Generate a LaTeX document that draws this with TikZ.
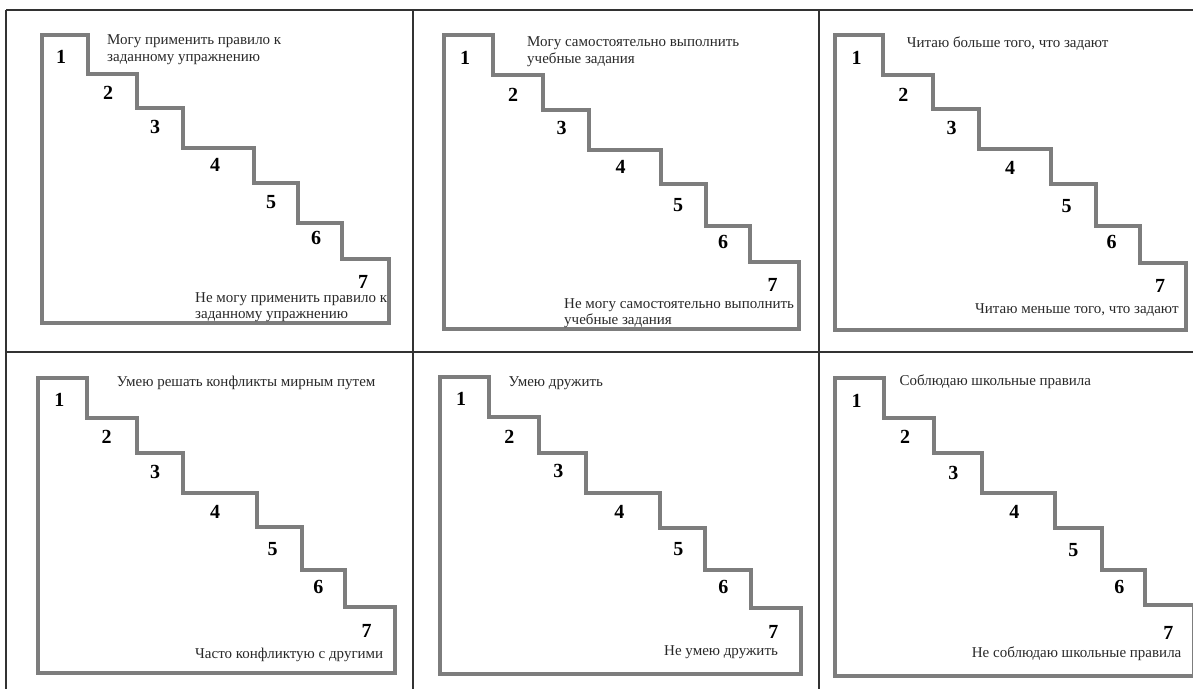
\documentclass[tikz,border=0pt]{standalone}
\usepackage{fontspec}
\setmainfont{Liberation Serif}
\definecolor{stairgray}{RGB}{125,125,125}
\definecolor{tabline}{RGB}{50,50,50}
\definecolor{txt}{RGB}{40,40,40}
\tikzset{
  stair/.style={draw=stairgray, line width=4pt, line join=miter},
  tabrule/.style={draw=tabline, line width=1.6pt},
  num/.style={font=\fontsize{20}{20}\selectfont\bfseries, inner sep=0pt, text=black},
  lbl/.style={font=\fontsize{15}{16.5}\selectfont, inner sep=0pt, align=left, anchor=west, text=txt}
}
\begin{document}
\begin{tikzpicture}[x=1pt,y=-1pt]
\useasboundingbox (0,0) rectangle (1193,688);
\clip (0,0) rectangle (1193,688);
% table
\coordinate (tl) at (6,10);
\coordinate (tr) at (1200,10);
\coordinate (bl) at (6,690);
\coordinate (c1t) at (413,10);
\coordinate (c1b) at (413,690);
\coordinate (c2t) at (819,10);
\coordinate (c2b) at (819,690);
\coordinate (ml) at (6,352);
\coordinate (mr) at (1200,352);
\draw[tabrule] (tl) -- (tr);
\draw[tabrule] (tl) -- (bl);
\draw[tabrule] (c1t) -- (c1b);
\draw[tabrule] (c2t) -- (c2b);
\draw[tabrule] (ml) -- (mr);
% staircases
\draw[stair] (41.7,35) -- (88.3,35) -- (88.3,74) -- (137.3,74) -- (137.3,108.3) -- (183.3,108.3) -- (183.3,147.7) -- (254,147.7) -- (254,182.7) -- (298.3,182.7) -- (298.3,222.7) -- (341.7,222.7) -- (341.7,259.3) -- (389.3,259.3) -- (389.3,323.3) -- (41.7,323.3) -- cycle;
\draw[stair] (444.3,35) -- (493.3,35) -- (493.3,75) -- (542.7,75) -- (542.7,110) -- (589,110) -- (589,150) -- (660.7,150) -- (660.7,184) -- (706,184) -- (706,226) -- (750,226) -- (750,262.3) -- (799.3,262.3) -- (799.3,329.3) -- (444.3,329.3) -- cycle;
\draw[stair] (835,35) -- (883.3,35) -- (883.3,75) -- (932.7,75) -- (932.7,109.3) -- (979,109.3) -- (979,149.3) -- (1050.7,149.3) -- (1050.7,184) -- (1095.7,184) -- (1095.7,226) -- (1140,226) -- (1140,262.7) -- (1186,262.7) -- (1186,330) -- (835,330) -- cycle;
\draw[stair] (38.3,378.3) -- (87.3,378.3) -- (87.3,418.3) -- (136.7,418.3) -- (136.7,453.3) -- (182.7,453.3) -- (182.7,493.3) -- (256.7,493.3) -- (256.7,527.3) -- (301.7,527.3) -- (301.7,570) -- (345,570) -- (345,606.7) -- (395,606.7) -- (395,673.3) -- (38.3,673.3) -- cycle;
\draw[stair] (440,376.7) -- (489,376.7) -- (489,417.3) -- (539.3,417.3) -- (539.3,452.7) -- (585.7,452.7) -- (585.7,493.3) -- (660,493.3) -- (660,528.3) -- (705,528.3) -- (705,570) -- (750.7,570) -- (750.7,607.7) -- (800.7,607.7) -- (800.7,674.3) -- (440,674.3) -- cycle;
\draw[stair] (835,378.3) -- (884,378.3) -- (884,418.3) -- (934.3,418.3) -- (934.3,453.3) -- (981.7,453.3) -- (981.7,493.3) -- (1055,493.3) -- (1055,528.3) -- (1101.7,528.3) -- (1101.7,570) -- (1145,570) -- (1145,605) -- (1194,605) -- (1194,676) -- (835,676) -- cycle;
% numbers panel 1
\node[num] (a1) at (61,57) {1};
\node[num] (a2) at (108,93) {2};
\node[num] (a3) at (155,127) {3};
\node[num] (a4) at (215,165) {4};
\node[num] (a5) at (271,202) {5};
\node[num] (a6) at (316,238) {6};
\node[num] (a7) at (363,281.5) {7};
% panel 2
\node[num] (b1) at (465,58) {1};
\node[num] (b2) at (513,95) {2};
\node[num] (b3) at (561.7,128) {3};
\node[num] (b4) at (620.7,166.7) {4};
\node[num] (b5) at (678,205) {5};
\node[num] (b6) at (723,241.7) {6};
\node[num] (b7) at (772.7,285) {7};
% panel 3
\node[num] (c1) at (856.7,58.3) {1};
\node[num] (c2) at (903.3,95) {2};
\node[num] (c3) at (951.7,128.3) {3};
\node[num] (c4) at (1010,168.3) {4};
\node[num] (c5) at (1066.7,206) {5};
\node[num] (c6) at (1111.7,241.7) {6};
\node[num] (c7) at (1160,286) {7};
% panel 4
\node[num] (d1) at (59.3,400) {1};
\node[num] (d2) at (106.7,437.3) {2};
\node[num] (d3) at (155,471.7) {3};
\node[num] (d4) at (215,511.7) {4};
\node[num] (d5) at (272.7,549.3) {5};
\node[num] (d6) at (318.3,586.7) {6};
\node[num] (d7) at (366.7,630.7) {7};
% panel 5
\node[num] (e1) at (461,399.3) {1};
\node[num] (e2) at (509.3,436.7) {2};
\node[num] (e3) at (558.3,470.7) {3};
\node[num] (e4) at (619.3,511.7) {4};
\node[num] (e5) at (678.3,549.3) {5};
\node[num] (e6) at (723.3,587.3) {6};
\node[num] (e7) at (773.3,631.7) {7};
% panel 6
\node[num] (f1) at (856.7,400.7) {1};
\node[num] (f2) at (905,437.3) {2};
\node[num] (f3) at (953.3,472.7) {3};
\node[num] (f4) at (1014.3,511.7) {4};
\node[num] (f5) at (1073.3,550) {5};
\node[num] (f6) at (1119.3,587.3) {6};
\node[num] (f7) at (1168.3,632.7) {7};
% labels
\node[lbl] (at) at (107,49.5) {Могу применить правило к\\заданному упражнению};
\node[lbl] (ab) at (195,307) {Не могу применить правило к\\заданному упражнению};
\node[lbl] (bt) at (527,51.5) {Могу самостоятельно выполнить\\учебные задания};
\node[lbl] (bb) at (564,313) {Не могу самостоятельно выполнить\\учебные задания};
\node[lbl] (ct) at (906.7,43.3) {Читаю больше того, что задают};
\node[lbl] (cb) at (975,310) {Читаю меньше того, что задают};
\node[lbl] (dt) at (116.7,383.3) {Умею решать конфликты мирным путем};
\node[lbl] (db) at (195,655) {Часто конфликтую с другими};
\node[lbl] (et) at (508.3,383.3) {Умею дружить};
\node[lbl] (eb) at (664,651.7) {Не умею дружить};
\node[lbl] (ft) at (899.3,381.7) {Соблюдаю школьные правила};
\node[lbl] (fb) at (971.7,653.3) {Не соблюдаю школьные правила};
\end{tikzpicture}
\end{document}
